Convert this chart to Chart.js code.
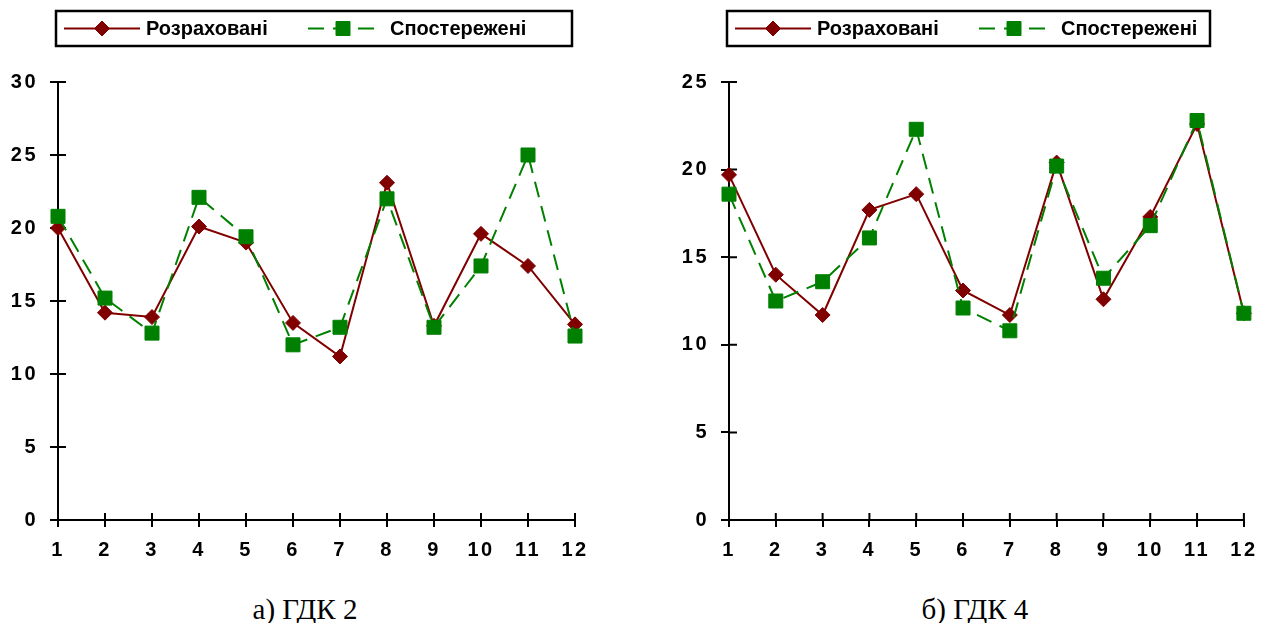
<!DOCTYPE html>
<html>
<head>
<meta charset="utf-8">
<script src="https://cdn.jsdelivr.net/npm/chart.js@4.4.1/dist/chart.umd.min.js"></script>
<style>
  html, body { margin: 0; padding: 0; background: #fff; }
  #wrap { position: relative; width: 1266px; height: 623px; background: #fff; overflow: hidden; }
  .box { position: absolute; top: 0; height: 580px; }
  .cap { position: absolute; top: 595px; width: 300px; text-align: center;
         font-family: 'Liberation Serif', 'Times New Roman', serif; font-size: 29px; line-height: 29px; color: #000; }
</style>
</head>
<body>
<div id="wrap">
  <div class="box" style="left:0;width:640px"><canvas id="c1"></canvas></div>
  <div class="box" style="left:640px;width:626px"><canvas id="c2"></canvas></div>
  <div class="cap" id="cap1" style="left:155px"></div>
  <div class="cap" id="cap2" style="left:825px"></div>
</div>
<script>
// ---- data ----
const categories = ['1','2','3','4','5','6','7','8','9','10','11','12'];
const seriesNames = ['Розраховані', 'Спостережені'];
const captions = ['а) ГДК 2', 'б) ГДК 4'];

// а) ГДК 2
const calcA = [20.0, 14.2, 13.9, 20.1, 19.0, 13.5, 11.2, 23.1, 13.3, 19.6, 17.4, 13.4];
const obsA  = [20.8, 15.2, 12.8, 22.1, 19.4, 12.0, 13.2, 22.0, 13.2, 17.4, 25.0, 12.6];
const yTicksA = [0, 5, 10, 15, 20, 25, 30];

// б) ГДК 4
const calcB = [19.7, 14.0, 11.7, 17.7, 18.6, 13.1, 11.7, 20.4, 12.6, 17.3, 22.6, 11.8];
const obsB  = [18.6, 12.5, 13.6, 16.1, 22.3, 12.1, 10.8, 20.2, 13.8, 16.8, 22.8, 11.8];
const yTicksB = [0, 5, 10, 15, 20, 25];

// ---- styles ----
const RED = '#800000';
const GREEN = '#008000';
const FONT_FAMILY = "'Liberation Sans', Arial, Helvetica, sans-serif";

document.getElementById('cap1').textContent = captions[0];
document.getElementById('cap2').textContent = captions[1];

// letter-spaced tick labels
const spacing = {
  id: 'spacing',
  beforeDraw(chart) { chart.ctx.letterSpacing = '2.5px'; }
};

// tick marks crossing into the plot area
const innerTicks = {
  id: 'innerTicks',
  beforeDatasetsDraw(chart) {
    const { ctx, chartArea, scales: { x, y } } = chart;
    ctx.save();
    ctx.strokeStyle = '#000';
    ctx.lineWidth = 2;
    ctx.beginPath();
    y.ticks.forEach((t, i) => {
      const py = y.getPixelForTick(i);
      ctx.moveTo(chartArea.left, py);
      ctx.lineTo(chartArea.left + 8, py);
    });
    x.ticks.forEach((t, i) => {
      const px = x.getPixelForTick(i);
      ctx.moveTo(px, chartArea.bottom);
      ctx.lineTo(px, chartArea.bottom - 7);
    });
    ctx.stroke();
    ctx.restore();
  }
};

// boxed legend with line + marker samples
const boxLegend = {
  id: 'boxLegend',
  afterDraw(chart, args, opts) {
    const ctx = chart.ctx;
    ctx.save();
    ctx.letterSpacing = '0px';
    ctx.lineWidth = 2.5;
    ctx.strokeStyle = '#000';
    ctx.setLineDash([]);
    ctx.strokeRect(opts.left, opts.top, opts.width, opts.height);
    const cy = opts.top + opts.height / 2;
    chart.data.datasets.forEach((ds, i) => {
      const it = opts.items[i];
      ctx.strokeStyle = ds.borderColor;
      ctx.lineWidth = ds.borderWidth;
      ctx.setLineDash(ds.borderDash || []);
      ctx.beginPath();
      ctx.moveTo(opts.left + it.x0, cy);
      ctx.lineTo(opts.left + it.x1, cy);
      ctx.stroke();
      ctx.setLineDash([]);
      ctx.fillStyle = ds.pointBackgroundColor;
      ctx.strokeStyle = ds.pointBorderColor;
      ctx.lineWidth = ds.pointBorderWidth;
      Chart.helpers.drawPoint(ctx, { pointStyle: ds.pointStyle, radius: ds.pointRadius, borderWidth: ds.pointBorderWidth, rotation: 0 },
        opts.left + (it.x0 + it.x1) / 2, cy);
      ctx.fillStyle = '#000';
      ctx.font = 'bold 20px ' + FONT_FAMILY;
      ctx.textAlign = 'left';
      ctx.textBaseline = 'middle';
      ctx.fillText(ds.label, opts.left + it.tx, cy + 1);
    });
    ctx.restore();
  }
};

function makeChart(id, calc, obs, yTicks, L) {
  const tickFont = { family: FONT_FAMILY, size: 20, weight: 'bold' };
  return new Chart(document.getElementById(id), {
    type: 'line',
    data: {
      labels: categories,
      datasets: [
        {
          label: seriesNames[0], data: calc, order: 1,
          borderColor: RED, backgroundColor: RED, borderWidth: 2,
          pointStyle: 'rectRot', pointRadius: 7.5,
          pointBackgroundColor: RED, pointBorderColor: RED, pointBorderWidth: 1,
          tension: 0
        },
        {
          label: seriesNames[1], data: obs, order: 0,
          borderColor: GREEN, backgroundColor: GREEN, borderWidth: 2, borderDash: [16, 9],
          pointStyle: 'rect', pointRadius: 9.9,
          pointBackgroundColor: GREEN, pointBorderColor: GREEN, pointBorderWidth: 1,
          tension: 0
        }
      ]
    },
    options: {
      responsive: true,
      maintainAspectRatio: false,
      animation: false,
      events: [],
      layout: { padding: { left: 0, right: L.padRight, top: 82, bottom: 18 } },
      plugins: {
        legend: { display: false },
        tooltip: { enabled: false },
        boxLegend: L.legend
      },
      scales: {
        x: {
          type: 'category',
          offset: false,
          grid: { display: true, drawOnChartArea: false, drawTicks: true, tickLength: 7, color: '#000', lineWidth: 2 },
          border: { display: true, color: '#000', width: 2 },
          ticks: { color: '#000', font: tickFont, padding: 11, maxRotation: 0, autoSkip: false },
          afterFit(s) { s.height = 42; }
        },
        y: {
          min: yTicks[0], max: yTicks[yTicks.length - 1],
          afterBuildTicks(s) { s.ticks = yTicks.map(v => ({ value: v })); },
          grid: { display: true, drawOnChartArea: false, drawTicks: true, tickLength: 8, color: '#000', lineWidth: 2 },
          border: { display: true, color: '#000', width: 2 },
          ticks: { color: '#000', font: tickFont, padding: 12 },
          afterFit(s) { s.width = L.axisWidth; }
        }
      }
    },
    plugins: [spacing, innerTicks, boxLegend]
  });
}

makeChart('c1', calcA, obsA, yTicksA, {
  axisWidth: 58, padRight: 65,
  legend: { left: 56, top: 11, width: 516, height: 35,
    items: [ { x0: 8, x1: 84, tx: 90 }, { x0: 252, x1: 322, tx: 334 } ] }
});
makeChart('c2', calcB, obsB, yTicksB, {
  axisWidth: 89, padRight: 20,
  legend: { left: 87, top: 11, width: 483, height: 35,
    items: [ { x0: 8, x1: 84, tx: 90 }, { x0: 252, x1: 322, tx: 334 } ] }
});
</script>
</body>
</html>
